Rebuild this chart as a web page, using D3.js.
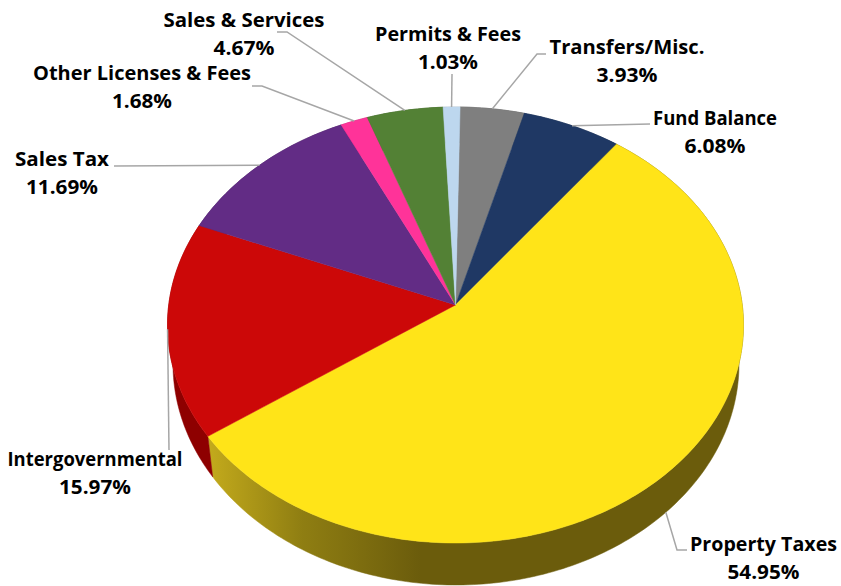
<!DOCTYPE html>
<html>
<head>
<meta charset="utf-8">
<script src="https://cdn.jsdelivr.net/npm/d3@7"></script>
<style>
  html, body { margin: 0; padding: 0; background: #fff; }
  text { font-family: "Comic Sans MS", "Open Sans", sans-serif; font-weight: 700; font-size: 19.5px; fill: #000; text-anchor: middle; }
</style>
</head>
<body>
<div id="chart"></div>
<script>
// values, clockwise from the top of the pie
var categories = ["Transfers/Misc.", "Fund Balance", "Property Taxes", "Intergovernmental",
                  "Sales Tax", "Other Licenses & Fees", "Sales & Services", "Permits & Fees"];
var shares = [3.93, 6.08, 54.95, 15.97, 11.69, 1.68, 4.67, 1.03];
var topColors = ["#7f7f7f", "#1f3864", "#ffe418", "#cc0808", "#622c85", "#ff3399", "#538135", "#bdd7ee"];
var wallColors = ["#5a5a5a", "#152747", "url(#yellowWall)", "#8e0000", "#45205e", "#b3246b", "#3a5a25", "#84969f"];

// where each label sits: centre x, first baseline, text widths, and the elbow of its leader
var labelX = [627, 715, 763.5, 95, 62, 142, 244, 448];
var labelY = [54, 125, 551, 466, 166, 80, 27, 41];
var nameWidth = [155, 124, 147, 175, 94, 218, 161, 146];
var pctWidth = [61, 61, 72, 72, 72, 60, 61, 60];
var leaderStart = [[546, 54], [650, 124], [687, 550], [169, 450], [114, 166], [252, 86], [277, 32], [452, 74]];
var leaderElbow = [[537, 54], null, [677, 550], null, null, [262, 86], [287, 32], null];

var width = 841, height = 586;

var svg = d3.select("#chart").append("svg")
    .attr("width", width)
    .attr("height", height)
    .style("display", "block");

var grad = svg.append("defs").append("linearGradient")
    .attr("id", "yellowWall")
    .attr("gradientUnits", "userSpaceOnUse")
    .attr("x1", 207).attr("x2", 800).attr("y1", 0).attr("y2", 0);
grad.append("stop").attr("offset", "0%").attr("stop-color", "#c4ab1c");
grad.append("stop").attr("offset", "16%").attr("stop-color", "#8f7e12");
grad.append("stop").attr("offset", "36%").attr("stop-color", "#6b5c0c");
grad.append("stop").attr("offset", "100%").attr("stop-color", "#6b5c0c");

// top face and bottom rim of the tilted disc
var topX = d3.scaleLinear().domain([-1, 1]).range([167.5, 743.5]);
var topY = d3.scaleLinear().domain([-1, 1]).range([107, 543]);
var botX = d3.scaleLinear().domain([-1, 1]).range([173, 739]);
var botY = d3.scaleLinear().domain([-1, 1]).range([143, 585]);

// perspective: the pie centre lands above the middle of the ellipse
var e = -0.092;
function project(angle, r) {
  var x = r * Math.sin(angle), y = -r * Math.cos(angle);
  var w = 1 + e * y;
  return [x * Math.sqrt(1 - e * e) / w, (y + e) / w];
}
function onTop(p) { return [topX(p[0]), topY(p[1])]; }
function onBot(p) { return [botX(p[0]), botY(p[1])]; }

var start = 1.0 * Math.PI / 180;
var pie = d3.pie().sort(null).startAngle(start).endAngle(start + 2 * Math.PI);
var slices = pie(shares);

function rim(d) {
  var n = Math.max(2, Math.ceil((d.endAngle - d.startAngle) * 60));
  return d3.range(n + 1).map(function(i) {
    return project(d.startAngle + (d.endAngle - d.startAngle) * i / n, 1);
  });
}
var line = d3.line();

// side wall first, the top face covers what is behind it
svg.append("g").selectAll("path")
  .data(slices)
  .enter().append("path")
    .attr("d", function(d) {
      var r = rim(d);
      return line(r.map(onTop).concat(r.slice().reverse().map(onBot))) + "Z";
    })
    .attr("fill", function(d, i) { return wallColors[i]; })
    .attr("stroke", function(d, i) { return wallColors[i]; })
    .attr("stroke-width", 0.5);

svg.append("g").selectAll("path")
  .data(slices)
  .enter().append("path")
    .attr("d", function(d) {
      return line([onTop(project(0, 0))].concat(rim(d).map(onTop))) + "Z";
    })
    .attr("fill", function(d, i) { return topColors[i]; })
    .attr("stroke", function(d, i) { return topColors[i]; })
    .attr("stroke-width", 0.5);

// leaders end on the rim at each slice's middle angle
svg.append("g").selectAll("path")
  .data(slices)
  .enter().append("path")
    .attr("d", function(d, i) {
      var p = project((d.startAngle + d.endAngle) / 2, 1);
      var end = categories[i] === "Property Taxes" ? onBot(p) : onTop(p);
      var pts = [leaderStart[i]];
      if (leaderElbow[i]) pts.push(leaderElbow[i]);
      pts.push(end);
      return line(pts);
    })
    .attr("fill", "none")
    .attr("stroke", "#a6a6a6")
    .attr("stroke-width", 1.5);

var labels = svg.append("g").selectAll("g")
  .data(categories)
  .enter().append("g");
labels.append("text")
    .attr("x", function(d, i) { return labelX[i]; })
    .attr("y", function(d, i) { return labelY[i]; })
    .attr("textLength", function(d, i) { return nameWidth[i]; })
    .attr("lengthAdjust", "spacingAndGlyphs")
    .text(function(d) { return d; });
labels.append("text")
    .attr("x", function(d, i) { return labelX[i]; })
    .attr("y", function(d, i) { return labelY[i] + 27.5; })
    .attr("textLength", function(d, i) { return pctWidth[i]; })
    .attr("lengthAdjust", "spacingAndGlyphs")
    .text(function(d, i) { return shares[i].toFixed(2) + "%"; });
</script>
</body>
</html>
